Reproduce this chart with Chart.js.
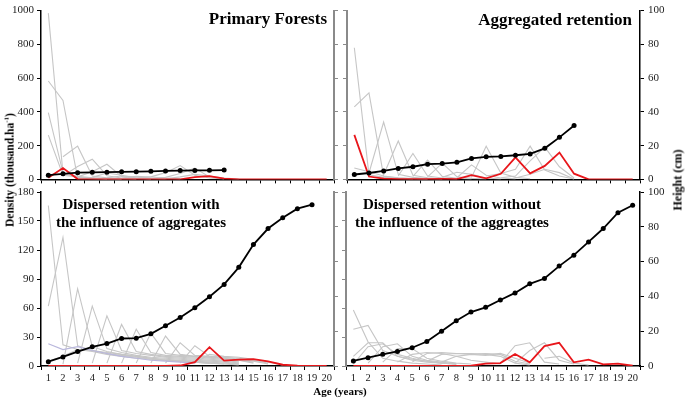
<!DOCTYPE html>
<html><head><meta charset="utf-8">
<script src="https://cdn.jsdelivr.net/npm/chart.js@4.4.1/dist/chart.umd.min.js"></script>
<style>
html,body{margin:0;padding:0;background:#fff;}
#wrap{position:relative;width:685px;height:400px;overflow:hidden;font-family:'Liberation Serif','Times New Roman',serif;}
canvas{position:absolute;}
.t{position:absolute;font-weight:bold;color:#000;white-space:nowrap;}
.rot{transform:translate(-50%,-50%) rotate(-90deg);}
</style></head><body>
<div id="wrap">
<canvas id="c1" width="345" height="190" style="left:0;top:0"></canvas>
<canvas id="c2" width="345" height="190" style="left:340px;top:0"></canvas>
<canvas id="c3" width="345" height="210" style="left:0;top:180px"></canvas>
<canvas id="c4" width="345" height="210" style="left:340px;top:180px"></canvas>
<div class="t" style="left:0;width:327px;text-align:right;top:9px;font-size:17px;line-height:20px;">Primary Forests</div>
<div class="t" style="left:340px;width:292px;text-align:right;top:10px;font-size:17px;line-height:20px;">Aggregated retention</div>
<div class="t" style="left:41px;width:200px;text-align:center;top:195px;font-size:15px;line-height:18px;">Dispersed retention with<br>the influence of aggregates</div>
<div class="t" style="left:352px;width:200px;text-align:center;top:195px;font-size:15px;line-height:18px;">Dispersed retention without<br>the influence of the aggreagtes</div>
<div class="t rot" style="left:9px;top:170px;font-size:11.5px;">Density (thousand.ha<sup style="font-size:7px">-1</sup>)</div>
<div class="t rot" style="left:678px;top:180px;font-size:12px;">Height (cm)</div>
<div class="t" style="left:340px;top:391px;transform:translate(-50%,-50%);font-size:11px;">Age (years)</div>
</div>
<script>
const _ = null;
const ages = ['1','2','3','4','5','6','7','8','9','10','11','12','13','14','15','16','17','18','19','20'];
const densityTicksTop = [0,200,400,600,800,1000];
const densityTicksBottom = [0,30,60,90,120,150,180];
const heightTicks = [0,20,40,60,80,100];

// Primary forests
const pfHeight = [2.5,3.3,4.0,4.2,4.3,4.5,4.6,4.8,5.0,5.2,5.3,5.4,5.5];
const pfRed = [10,67,2,0,0,0,0,0,0,0,13,19,5,0,0,0,0,0,0,0];
const pfGrey = [
 [985,35,12,6,3,1],
 [583,468,8,4,2],
 [396,40,18,9,4,2],
 [262,25,14,8,3],
 [_,134,197,20,9,4,2],
 [_,20,76,120,22,8,3],
 [_,_,15,45,90,18,6,2],
 [_,_,_,12,38,25,8,3],
 [_,_,_,_,10,20,15,6,2],
 [_,_,_,_,_,8,18,14,8,3],
 [_,_,_,_,_,_,6,15,40,82,25,8,2],
 [_,_,_,_,_,_,_,5,12,35,67,15,4],
 [_,_,_,_,_,_,_,_,4,15,30,20,8,2]
];

// Aggregated retention
const arHeight = [2.9,3.8,5.0,6.5,7.5,9.0,9.4,10.1,12.4,13.4,13.6,14.3,15.1,18.4,24.9,31.9];
const arRed = [264,17,4,2,1,1,3,2,25,6,33,130,36,80,159,34,0,0,0,0];
const arGrey = [
 [780,28,12,6,3],
 [430,512,19,8,4,2],
 [67,45,20,10,5,2],
 [_,38,340,30,12,5,2],
 [_,_,28,228,25,10,4],
 [_,_,_,20,153,20,8,3],
 [_,_,_,_,18,115,18,7,2],
 [_,_,_,_,_,15,96,16,6,2],
 [_,_,_,_,_,_,12,42,30,8,2],
 [_,_,_,_,_,_,_,10,86,25,8,3],
 [_,_,_,_,_,_,_,_,12,197,38,12,4],
 [_,_,_,_,_,_,_,_,_,20,35,60,197,55,20,2],
 [_,_,_,_,_,_,_,_,_,_,10,20,110,191,75,8],
 [_,_,_,_,_,_,_,_,_,_,_,8,30,60,40,2]
];

// Dispersed retention with the influence of aggregates
const drwHeight = [2.5,5.2,8.3,11.0,12.9,15.8,16.0,18.5,23.1,27.9,33.5,39.8,46.9,56.7,69.8,79.0,85.2,90.4,92.7];
const drwRed = [0,0,0,0,0,0,0,0,0,0.5,4,19.5,5.5,6.5,7,4.8,1.3,0.3,0,0];
const drwLavender = [23,17,20,16,13,10,8,6,5,4,3];
const drwGrey = [
 [166,22,17,15,12,10,8,7,6,5,4,3,2,1],
 [62,133,21,16,13,11,9,7,6,5,4,3,2],
 [_,2,80,20,15,12,10,8,7,6,5,4,3,2],
 [_,_,3,62,18,14,11,9,8,7,6,5,4,2],
 [_,_,_,3,52,16,13,11,9,8,7,6,5,3],
 [_,_,_,_,3,43,15,12,10,9,8,7,6,4],
 [_,_,_,_,_,3,38,14,11,10,9,8,7,5],
 [_,_,_,_,_,_,3,34,13,11,10,9,8,6,3],
 [_,_,_,_,_,_,_,3,31,12,10,9,8,6,4],
 [_,_,_,_,_,_,_,_,3,24,11,10,9,7,5,2],
 [_,_,_,_,_,_,_,_,_,3,21,10,9,8,6,3],
 [_,_,_,_,_,_,_,_,_,_,3,12,10,9,7,4,1],
 [5,10,17,16,14,12,10,8,6,5,4,3]
];

// Dispersed retention without the influence of the aggregates
const drwoHeight = [2.9,4.8,6.7,8.4,10.5,14.1,20.0,26.0,31.0,33.7,37.9,42.0,47.2,50.3,57.4,63.7,71.3,79.0,88.1,92.4];
const drwoRed = [0,0,0,0,0,0,0,0,0.3,2.5,3,12.4,3.8,20.6,24,3.8,6.5,1.7,2.4,0.3];
const drwoGrey = [
 [58,25,8,5,3,2,1],
 [38,42,16,10,7,5,3,2],
 [10,24,24,10,6,4,3,2],
 [2,20,23,12,8,5,3,2],
 [_,3,20,23,10,6,4,2],
 [_,_,4,18,18,8,5,3,2],
 [_,_,_,4,12,14,13,10,6,4,2],
 [_,_,_,_,4,13,14,13,13,12,10,3,1],
 [_,_,_,_,_,5,12,13,12,13,12,5,2],
 [_,_,_,_,_,_,4,10,12,11,13,8,3],
 [_,_,_,_,_,_,_,_,_,_,3,21,24,4,2],
 [_,_,_,_,_,_,_,_,_,_,_,3,16,24,6,2],
 [_,_,_,_,_,_,_,_,_,_,_,_,_,8,10,3,1]
];

Chart.defaults.font.family = "'Liberation Serif','Times New Roman',serif";
const GREYAX = '#8a8a8a';
const tickFont = {size: 11};

function axisY(pos, ticksArr, showLabels, color, width, w) {
  return {
    position: pos, min: ticksArr[0], max: ticksArr[ticksArr.length-1],
    afterBuildTicks: s => { s.ticks = ticksArr.map(v => ({value: v})); },
    ticks: {font: tickFont, color: '#222', padding: pos === 'left' ? 3 : 4,
      callback: v => showLabels ? String(v) : ''},
    grid: {drawOnChartArea: false, drawTicks: true, tickLength: 4, color: color, lineWidth: 1},
    border: {display: true, color: color, width: width},
    afterFit: s => { s.width = w; }
  };
}

function makePanel(id, cfg) {
  const ds = [];
  ds.push({data: cfg.height, yAxisID: 'y1', borderColor: '#000', backgroundColor: '#000',
    borderWidth: 1.8, pointRadius: 2.5, pointBackgroundColor: '#000', pointBorderWidth: 0});
  ds.push({data: cfg.red, yAxisID: 'y', borderColor: '#e8161b', borderWidth: 1.8, pointRadius: 0});
  if (cfg.lav) ds.push({data: cfg.lav, yAxisID: 'y', borderColor: '#b9b7dc', borderWidth: 1.1, pointRadius: 0});
  cfg.grey.forEach(g => ds.push({data: g, yAxisID: 'y', borderColor: '#c6c6c6', borderWidth: 1.1, pointRadius: 0}));
  new Chart(document.getElementById(id), {
    type: 'line',
    data: {labels: ages, datasets: ds},
    options: {
      responsive: false, animation: false, devicePixelRatio: 1,
      layout: {autoPadding: false, padding: {top: cfg.padTop, left: 0, right: 0, bottom: 0}},
      plugins: {legend: {display: false}, tooltip: {enabled: false}},
      elements: {line: {tension: 0}},
      scales: {
        x: {type: 'category', offset: true,
          grid: {offset: true, drawOnChartArea: false, drawTicks: true, tickLength: 4, color: '#000'},
          border: {display: true, color: '#000', width: 1.5},
          ticks: {font: {size: 10.5}, color: '#222', padding: 2, maxRotation: 0, autoSkip: false,
            callback: function(v, i) { return cfg.showX ? ages[i] : ''; }},
          afterFit: s => { s.height = cfg.xH; }},
        y: axisY('left', cfg.dTicks, cfg.showLeft, cfg.showLeft ? '#000' : GREYAX, cfg.showLeft ? 1.5 : 2, cfg.leftW),
        y1: axisY('right', heightTicks, cfg.showRight, cfg.showRight ? '#000' : GREYAX, cfg.showRight ? 1.5 : 2, cfg.rightW)
      }
    }
  });
}

makePanel('c1', {height: pfHeight, red: pfRed, grey: pfGrey, dTicks: densityTicksTop,
  showLeft: true, showRight: false, showX: false, leftW: 41, rightW: 11, padTop: 6, xH: 10});
makePanel('c2', {height: arHeight, red: arRed, grey: arGrey, dTicks: densityTicksTop,
  showLeft: false, showRight: true, showX: false, leftW: 7, rightW: 45, padTop: 6, xH: 10});
makePanel('c3', {height: drwHeight, red: drwRed, grey: drwGrey, lav: drwLavender, dTicks: densityTicksBottom,
  showLeft: true, showRight: false, showX: true, leftW: 41, rightW: 11, padTop: 12, xH: 24});
makePanel('c4', {height: drwoHeight, red: drwoRed, grey: drwoGrey, dTicks: densityTicksBottom,
  showLeft: false, showRight: true, showX: true, leftW: 6, rightW: 45, padTop: 12, xH: 24});
</script>
</body></html>
